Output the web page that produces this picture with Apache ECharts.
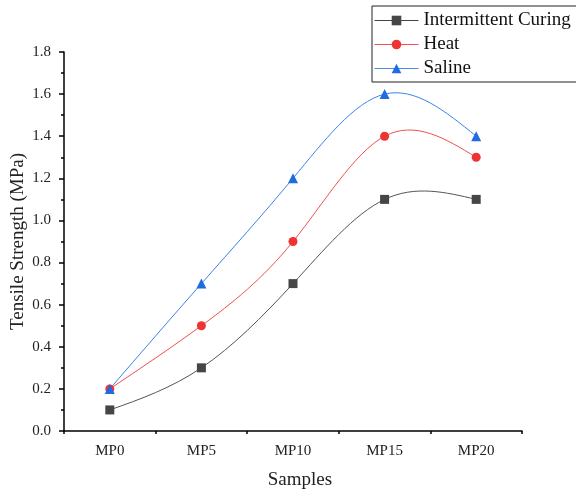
<!DOCTYPE html>
<html><head><meta charset="utf-8">
<script src="https://cdn.jsdelivr.net/npm/echarts@6/dist/echarts.min.js"></script>
<style>html,body{margin:0;padding:0;background:#fff}#c{width:576px;height:496px}</style>
</head><body><div id="c"></div>
<script>
var categories = ['MP0','MP5','MP10','MP15','MP20'];
var intermittent = [0.1, 0.3, 0.7, 1.1, 1.1];
var heat = [0.2, 0.5, 0.9, 1.4, 1.3];
var saline = [0.2, 0.7, 1.2, 1.6, 1.4];
var seriesNames = ['Intermittent Curing','Heat','Saline'];

var font = 'Liberation Serif';

// natural cubic spline second derivatives (uniform spacing)
function splineM(y) {
  var n = y.length, M = new Array(n).fill(0);
  if (n < 3) return M;
  var m = n - 2, a = [], b = [], c = [], d = [];
  for (var i = 1; i <= m; i++) {
    a.push(1); b.push(4); c.push(1);
    d.push(6 * (y[i + 1] - 2 * y[i] + y[i - 1]));
  }
  for (var k = 1; k < m; k++) {
    var w = a[k] / b[k - 1];
    b[k] -= w * c[k - 1]; d[k] -= w * d[k - 1];
  }
  var x = new Array(m);
  x[m - 1] = d[m - 1] / b[m - 1];
  for (k = m - 2; k >= 0; k--) x[k] = (d[k] - c[k] * x[k + 1]) / b[k];
  for (k = 0; k < m; k++) M[k + 1] = x[k];
  return M;
}

function curveSeries(name, values, color) {
  var M = splineM(values);
  return {
    name: name + ' curve', type: 'custom', coordinateSystem: 'cartesian2d',
    xAxisIndex: 0, yAxisIndex: 0, z: 2, silent: true,
    data: values.map(function (v, i) { return [i, v]; }),
    encode: {x: 0, y: 1},
    renderItem: function (params, api) {
      var i = params.dataIndex;
      if (i >= values.length - 1) return null;
      var y0 = values[i], y1 = values[i + 1];
      var s = y1 - y0;
      var d0 = s - (2 * M[i] + M[i + 1]) / 6;
      var d1 = s + (M[i] + 2 * M[i + 1]) / 6;
      var p0 = api.coord([i, y0]);
      var p3 = api.coord([i + 1, y1]);
      var dx = (p3[0] - p0[0]);
      var c1 = [p0[0] + dx / 3, api.coord([i, y0 + d0 / 3])[1]];
      var c2 = [p3[0] - dx / 3, api.coord([i, y1 - d1 / 3])[1]];
      var path = 'M' + p0[0] + ' ' + p0[1] + ' C' + c1[0] + ' ' + c1[1] + ' ' +
        c2[0] + ' ' + c2[1] + ' ' + p3[0] + ' ' + p3[1];
      return {
        type: 'path',
        shape: {pathData: path},
        style: {stroke: color, fill: null, lineWidth: 1}
      };
    }
  };
}

function markers(name, data, color, symbol, size) {
  return {
    name: name, type: 'line', data: data,
    symbol: symbol, symbolSize: size,
    lineStyle: {opacity: 0},
    itemStyle: {color: color},
    xAxisIndex: 0, yAxisIndex: 0, z: 3
  };
}

var chart = echarts.init(document.getElementById('c'));
chart.setOption({
  animation: false,
  backgroundColor: '#fff',
  textStyle: {fontFamily: font},
  grid: {left: 64, right: 54, top: 52, bottom: 65, containLabel: false, outerBoundsMode: 'none'},
  legend: {
    orient: 'vertical', left: 372, top: 6, width: 240,
    padding: [5, 40, 4, 2], itemGap: 5, itemWidth: 44, itemHeight: 12,
    borderColor: '#222', borderWidth: 1,
    textStyle: {fontFamily: font, fontSize: 19, color: '#111', padding: [0, 0, 0, 0]},
    data: [
      {name: seriesNames[0], lineStyle: {opacity: 1, color: '#444', width: 1}},
      {name: seriesNames[1], lineStyle: {opacity: 1, color: '#f05050', width: 1}},
      {name: seriesNames[2], lineStyle: {opacity: 1, color: '#4a8ee8', width: 1}}
    ]
  },
  xAxis: [{
    type: 'category', data: categories, boundaryGap: true,
    axisLine: {lineStyle: {color: '#000', width: 1.5}},
    axisTick: {alignWithLabel: true, length: 5, lineStyle: {color: '#000', width: 1.5}},
    axisLabel: {fontFamily: font, fontSize: 15, color: '#222', margin: 13},
    splitLine: {show: false},
    name: 'Samples', nameLocation: 'middle', nameGap: 40, nameMoveOverlap: false,
    nameTextStyle: {fontFamily: font, fontSize: 19, color: '#222', padding: [0, 0, 0, 14]}
  }, {
    type: 'category', data: categories, boundaryGap: true, position: 'bottom',
    axisLine: {show: false},
    axisTick: {show: true, length: 3, lineStyle: {color: '#000', width: 1.5}},
    axisLabel: {show: false}, splitLine: {show: false}
  }],
  yAxis: {
    type: 'value', min: 0, max: 1.8, interval: 0.2,
    axisLine: {show: true, lineStyle: {color: '#000', width: 1.5}},
    axisTick: {show: true, length: 5, lineStyle: {color: '#000', width: 1.5}},
    minorTick: {show: true, splitNumber: 2, length: 3, lineStyle: {color: '#000', width: 1.5}},
    axisLabel: {fontFamily: font, fontSize: 15, color: '#222', margin: 13,
      formatter: function (v) { return v.toFixed(1); }},
    splitLine: {show: false},
    name: 'Tensile Strength (MPa)', nameLocation: 'middle', nameGap: 36, nameMoveOverlap: false,
    nameTextStyle: {fontFamily: font, fontSize: 19, color: '#222'}
  },
  series: [
    curveSeries(seriesNames[0], intermittent, '#555'),
    curveSeries(seriesNames[1], heat, '#f05050'),
    curveSeries(seriesNames[2], saline, '#3a85e8'),
    markers(seriesNames[0], intermittent, '#464646', 'rect', 9),
    markers(seriesNames[1], heat, '#ee3333', 'circle', 9),
    markers(seriesNames[2], saline, '#1f6be0', 'triangle', 10)
  ]
});
</script></body></html>
